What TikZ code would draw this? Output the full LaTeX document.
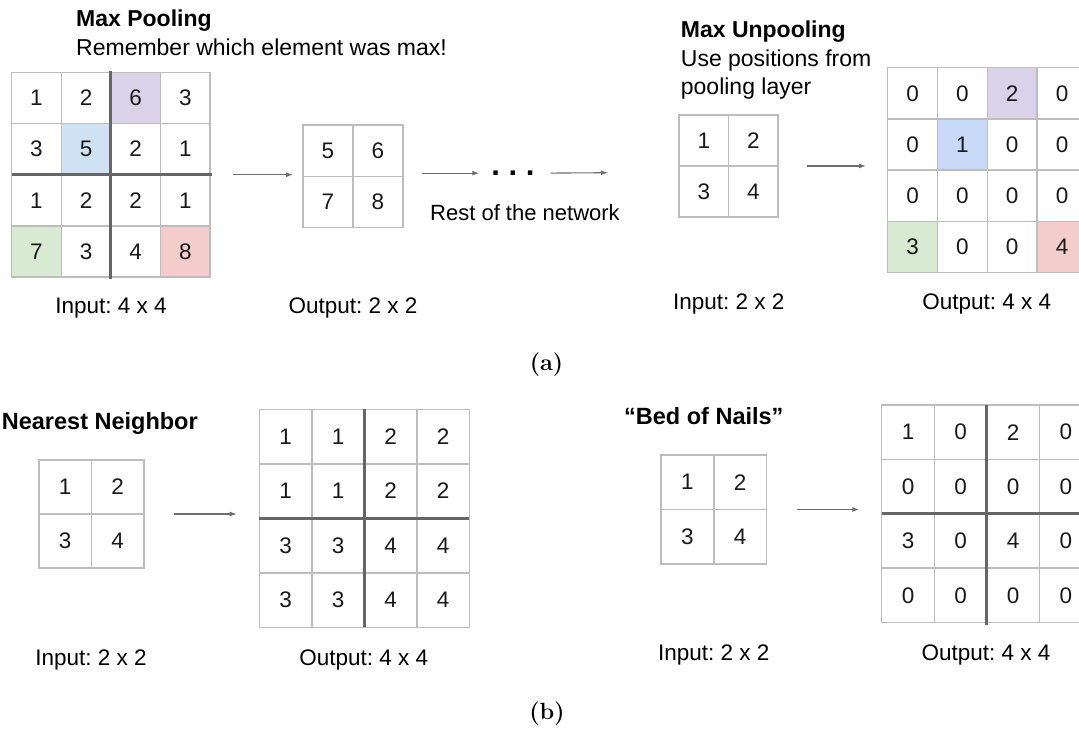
\documentclass[tikz,border=0pt]{standalone}
\usepackage{fontspec}
\setsansfont{Liberation Sans}
\usetikzlibrary{arrows.meta}
\frenchspacing
\pgfdeclarelayer{bg}
\pgfsetlayers{bg,main}
\definecolor{gridline}{HTML}{BDBDBD}
\definecolor{thickline}{HTML}{666666}
\definecolor{arrowgray}{HTML}{6E6E6E}
\definecolor{cpurple}{HTML}{D9D2E9}
\definecolor{cblue}{HTML}{CFE2F3}
\definecolor{cblueb}{HTML}{C9DAF8}
\definecolor{cgreen}{HTML}{D9EAD3}
\definecolor{cred}{HTML}{F4CCCC}

% #1 name, #2 left, #3 top, #4 cell width, #5 cell height, #6 rows of values
\newcommand\cellgrid[6]{%
  \foreach \rowvals [count=\gr] in {#6}{%
    \foreach \v [count=\gc] in \rowvals{%
      \node[cell, minimum width=#4pt, minimum height=#5pt]
        (#1-\gr-\gc) at ({#2+(\gc-0.5)*#4},{#3+(\gr-0.5)*#5}) {\v};
    }%
  }%
}
\newcommand\cellfill[2]{%
  \begin{pgfonlayer}{bg}
    \fill[#1] (#2.north west) rectangle (#2.south east);
  \end{pgfonlayer}%
}

\begin{document}
\frenchspacing
\begin{tikzpicture}[x=1pt, y=-1pt,
  cell/.style={draw=gridline, line width=1.5pt, inner sep=0pt, outer sep=0pt,
    font=\sffamily\fontsize{22.5}{26}\selectfont, text=black!90},
  heavy/.style={draw=thickline, line width=3pt},
  arr/.style={draw=arrowgray, line width=1.1pt, -{Latex[length=7pt,width=5pt]}},
  title/.style={font=\sffamily\bfseries\fontsize{23}{28}\selectfont, inner sep=0pt, anchor=base west},
  body/.style={font=\sffamily\fontsize{23}{28}\selectfont, inner sep=0pt, anchor=base west},
  label/.style={font=\sffamily\fontsize{22.5}{27}\selectfont, inner sep=0pt, anchor=base},
  caption/.style={font=\rmfamily\bfseries\fontsize{23.5}{28}\selectfont, inner sep=0pt}]
\useasboundingbox (0,0) rectangle (1079,731);
\clip (0,0) rectangle (1079,731);

% ---------- (a) max pooling ----------
\node[title] (tmax) at (76,26.7) {Max Pooling};
\node[body] (tremember) at (76,55) {Remember which element was max!};

\cellgrid{A}{11.7}{72.3}{49.6}{51.2}{{1,2,6,3},{3,5,2,1},{1,2,2,1},{7,3,4,8}}
\cellfill{cpurple}{A-1-3}
\cellfill{cblue}{A-2-2}
\cellfill{cgreen}{A-4-1}
\cellfill{cred}{A-4-4}
\draw[heavy] ([yshift=1pt]A-1-2.north east) -- ([yshift=-2pt]A-4-2.south east);
\draw[heavy] (A-2-1.south west) -- ([xshift=2pt]A-2-4.south east);
\node[label] (linA) at (111,313.3) {Input: 4 x 4};

\cellgrid{B}{303}{125}{50}{51.3}{{5,6},{7,8}}
\node[label] (loutB) at (353,313.3) {Output: 2 x 2};

\draw[arr, shorten <=23pt, shorten >=10pt] (A-2-4.south east) -- (A-2-4.south east -| B-2-1.west);

\node[font=\sffamily\bfseries\fontsize{31}{31}\selectfont, inner sep=0pt, anchor=base]
  (dots) at (513,175.5) {.\ .\ .};
\draw[arr, shorten <=18.7pt, shorten >=12pt] (B-1-2.south east |- dots.west) -- (dots.west);
\coordinate (restend) at (608,172.7);
\draw[arr, shorten <=16pt] (dots.east) -- (restend);
\node[body, font=\sffamily\fontsize{22}{26}\selectfont] (trest) at (430,220.5) {Rest of the network};

% ---------- (a) max unpooling ----------
\node[title] (tunpool) at (680.7,37.5) {Max Unpooling};
\node[body] (tuse) at (680.7,66.3) {Use positions from};
\node[body] (tlayer) at (680.7,94) {pooling layer};

\cellgrid{C}{679}{115}{49.5}{51}{{1,2},{3,4}}
\node[label] (linC) at (728.8,309.3) {Input: 2 x 2};

\cellgrid{D}{887.7}{67.7}{49.8}{51.2}{{0,0,2,0},{0,1,0,0},{0,0,0,0},{3,0,0,4}}
\cellfill{cpurple}{D-1-3}
\cellfill{cblueb}{D-2-2}
\cellfill{cgreen}{D-4-1}
\cellfill{cred}{D-4-4}
\node[label] (loutD) at (986.7,309.3) {Output: 4 x 4};

\draw[arr, shorten <=29pt, shorten >=21.7pt] (C-1-2.south east) -- (C-1-2.south east -| D-1-1.west);

\node[caption] (capa) at (546.5,365) {(a)};

% ---------- (b) nearest neighbor ----------
\node[title, font=\sffamily\bfseries\fontsize{23.5}{28}\selectfont] (tnn) at (1.7,429.3) {Nearest Neighbor};

\cellgrid{E}{39}{460}{52.5}{54}{{1,2},{3,4}}
\node[label] (linE) at (91,665) {Input: 2 x 2};

\cellgrid{F}{259.3}{409.3}{52.5}{54.5}{{1,1,2,2},{1,1,2,2},{3,3,4,4},{3,3,4,4}}
\draw[heavy] (F-1-2.north east) -- (F-4-2.south east);
\draw[heavy] (F-2-1.south west) -- (F-2-4.south east);
\node[label] (loutF) at (363.8,665) {Output: 4 x 4};

\draw[arr, shorten <=30pt, shorten >=22.6pt] (E-1-2.south east) -- (E-1-2.south east -| F-1-1.west);

% ---------- (b) bed of nails ----------
\node[title, font=\sffamily\bfseries\fontsize{23.5}{28}\selectfont] (tbed) at (624,424.3) {“Bed of Nails”};

\cellgrid{G}{661}{455}{52.8}{54.5}{{1,2},{3,4}}
\node[label] (linG) at (713.8,660.7) {Input: 2 x 2};

\cellgrid{H}{881.7}{405}{52.6}{54.4}{{1,0,2,0},{0,0,0,0},{3,0,4,0},{0,0,0,0}}
\draw[heavy] (H-1-2.north east) -- ([yshift=-2pt]H-4-2.south east);
\draw[heavy] (H-2-1.south west) -- (H-2-4.south east);
\node[label] (loutH) at (986,660.7) {Output: 4 x 4};

\draw[arr, shorten <=30pt, shorten >=22.4pt] (G-1-2.south east) -- (G-1-2.south east -| H-1-1.west);

\node[caption] (capb) at (547,714) {(b)};
\end{tikzpicture}
\end{document}
